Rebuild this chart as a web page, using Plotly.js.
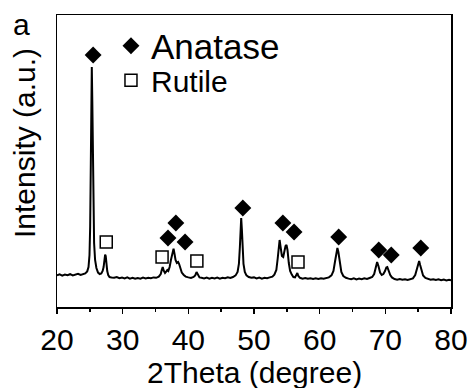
<!DOCTYPE html>
<html>
<head>
<meta charset="utf-8">
<script src="https://cdn.plot.ly/plotly-3.0.1.min.js"></script>
<style>html,body{margin:0;padding:0;background:#fff;}#chart{width:473px;height:388px;}</style>
</head>
<body>
<div id="chart"></div>
<script>
// XRD pattern (2θ in degrees, intensity in arbitrary units)
const twoTheta = [
20.0,20.4,20.8,21.2,21.6,22.0,22.4,22.8,23.2,23.6,24.0,24.3,24.6,24.8,24.95,25.05,25.15,25.22,25.3,25.38,25.45,25.55,25.65,25.8,26.0,26.25,26.5,26.75,26.95,27.1,27.22,27.33,27.42,27.52,27.65,27.8,28.0,
28.3,28.7,29.1,29.5,29.9,30.3,30.7,31.1,31.5,31.9,32.3,32.7,33.1,33.5,33.9,34.3,34.7,35.1,35.5,35.8,35.95,36.1,36.25,36.45,36.65,36.8,36.95,37.15,37.35,37.55,37.75,37.9,38.05,38.25,38.45,38.6,38.8,39.0,39.3,39.6,40.0,40.4,40.8,41.05,41.25,41.45,41.7,42.0,
42.4,42.8,43.2,43.6,44.0,44.4,44.8,45.2,45.6,46.0,46.4,46.8,47.2,47.5,47.7,47.85,47.95,48.05,48.15,48.25,48.4,48.6,48.85,49.2,49.6,50.0,50.4,50.8,51.2,51.6,52.0,52.4,52.8,53.1,53.4,53.6,53.75,53.9,54.05,54.25,54.45,54.6,54.8,54.95,55.1,55.3,55.5,55.75,56.0,56.25,56.45,56.6,56.75,57.0,
57.4,57.8,58.2,58.6,59.0,59.4,59.8,60.2,60.6,61.0,61.4,61.8,62.1,62.35,62.55,62.7,62.85,63.05,63.3,63.6,64.0,64.4,64.8,65.2,65.6,66.0,66.4,66.8,67.2,67.6,68.0,68.3,68.55,68.75,68.95,69.2,69.45,69.7,69.95,70.15,70.3,70.5,70.75,71.0,
71.4,71.8,72.2,72.6,73.0,73.4,73.8,74.2,74.55,74.8,75.0,75.15,75.3,75.5,75.75,76.1,76.5,76.9,77.3,77.7,78.1,78.5,78.9,79.3,79.7,80.0
];
const intensity = [
158,163,157,162,159,164,158,161,166,160,163,168,178,200,260,400,720,1000,1200,1020,760,470,320,235,195,172,165,168,180,200,232,262,255,215,180,160,150,
148,146,150,144,147,143,148,142,146,141,145,142,147,143,146,144,148,146,152,165,185,200,182,170,178,185,180,200,235,275,292,265,235,220,225,215,190,172,160,152,148,145,150,158,175,160,148,146,
143,147,142,146,143,147,142,146,144,148,145,150,158,175,215,300,400,445,390,300,215,175,158,150,146,148,143,147,142,146,144,148,152,162,185,240,310,335,300,255,250,275,305,310,285,220,180,162,150,148,160,170,155,146,
142,145,141,144,140,143,140,144,141,145,148,158,180,230,280,295,275,220,175,155,146,142,139,143,138,142,139,143,140,145,150,165,200,225,205,172,160,165,180,198,200,180,160,148,
140,137,140,136,139,135,139,143,160,190,220,230,210,180,158,145,139,136,139,135,138,134,137,133,136,134
];

// Phase markers
const anataseX = [25.5, 36.9, 38.1, 39.5, 48.3, 54.4, 56.1, 62.9, 69.0, 70.9, 75.4];
const anataseY = [1260, 345, 420, 325, 495, 420, 375, 350, 285, 260, 295];
const rutileX = [27.5, 36.0, 41.3, 56.7];
const rutileY = [325, 250, 230, 225];

const xTicks = [20, 30, 40, 50, 60, 70, 80];

const FONT = 'Liberation Sans, Arial, sans-serif';
const NARROW = 'Liberation Sans Narrow, Arial Narrow, sans-serif';

const traces = [
  {x: twoTheta, y: intensity, type: 'scatter', mode: 'lines',
   line: {color: '#000', width: 2}, showlegend: false, hoverinfo: 'skip'},
  {x: anataseX, y: anataseY, type: 'scatter', mode: 'markers', name: 'Anatase',
   legend: 'legend',
   marker: {symbol: 'diamond', size: 13, color: '#000', line: {width: 0}}},
  {x: rutileX, y: rutileY, type: 'scatter', mode: 'markers', name: 'Rutile',
   legend: 'legend2',
   marker: {symbol: 'square', size: 12, color: '#fff', line: {color: '#000', width: 1.5}}}
];

const layout = {
  width: 473, height: 388,
  margin: {l: 57, r: 22, t: 15, b: 81},
  paper_bgcolor: '#fff', plot_bgcolor: '#fff',
  font: {family: FONT, color: '#000', size: 30},
  showlegend: true,
  legend: {x: 0.137, y: 0.995, xanchor: 'left', yanchor: 'top', bgcolor: 'rgba(0,0,0,0)',
           font: {family: NARROW, size: 35, color: '#000'}, itemwidth: 30},
  legend2: {x: 0.137, y: 0.866, xanchor: 'left', yanchor: 'top', bgcolor: 'rgba(0,0,0,0)',
           font: {family: NARROW, size: 30, color: '#000'}, itemwidth: 30},
  xaxis: {range: [20, 80], tickvals: xTicks, ticktext: xTicks.map(String),
          ticks: 'outside', ticklen: 5, tickwidth: 1.5, tickcolor: '#000',
          minor: {dtick: 5, ticks: 'outside', ticklen: 3, tickwidth: 1.5, tickcolor: '#000'},
          showline: true, linewidth: 1.5, linecolor: '#000', mirror: true,
          showgrid: false, zeroline: false,
          tickfont: {family: FONT, size: 30, color: '#000'}},
  yaxis: {range: [0, 1460], showticklabels: false, ticks: '',
          showline: true, linewidth: 1.5, linecolor: '#000', mirror: true,
          showgrid: false, zeroline: false},
  annotations: [
    {text: '2Theta (degree)', xref: 'paper', yref: 'paper', x: 0.5, y: -0.163,
     xanchor: 'center', yanchor: 'top', showarrow: false, borderpad: 0,
     font: {family: FONT, size: 30, color: '#000'}},
    {text: 'Intensity (a.u.)', xref: 'paper', yref: 'paper', x: -0.081, y: 0.562,
     xanchor: 'center', yanchor: 'middle', textangle: -90, showarrow: false,
     font: {family: FONT, size: 30, color: '#000'}},
    {text: 'a', xref: 'paper', yref: 'paper', x: -0.089, y: 0.967,
     xanchor: 'center', yanchor: 'middle', showarrow: false,
     font: {family: FONT, size: 30, color: '#000'}}
  ]
};

Plotly.newPlot('chart', traces, layout, {displayModeBar: false, staticPlot: true});
</script>
</body>
</html>
